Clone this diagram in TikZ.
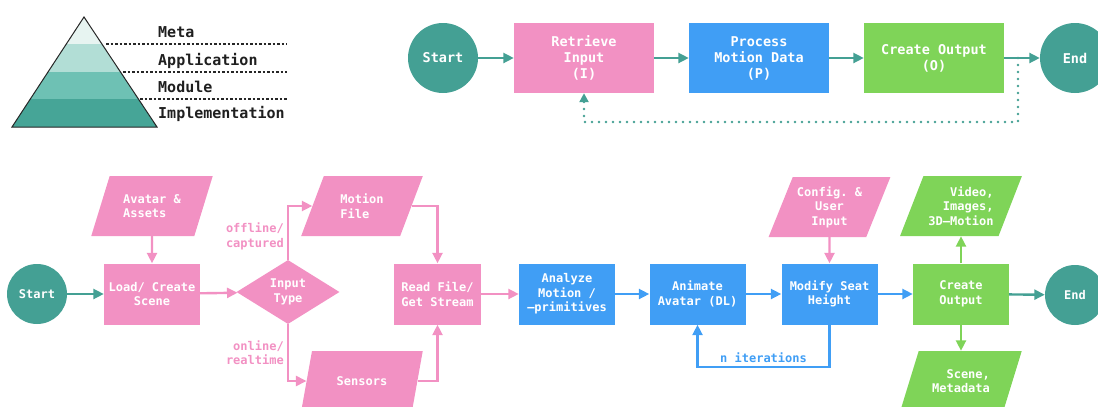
\documentclass[tikz,border=0pt]{standalone}
\usepackage{fontspec}
\setmonofont{DejaVu Sans Mono}
\usepackage{tikz}
\usetikzlibrary{arrows.meta}
\usetikzlibrary{shapes.geometric}
\definecolor{flowpink}{RGB}{242,145,195}
\definecolor{flowblue}{RGB}{64,158,245}
\definecolor{flowgreen}{RGB}{127,212,88}
\definecolor{flowteal}{RGB}{68,160,148}
\definecolor{layerA}{RGB}{231,244,241}
\definecolor{layerB}{RGB}{178,222,214}
\definecolor{layerC}{RGB}{110,193,180}
\definecolor{layerD}{RGB}{70,165,151}
\newcommand{\bigtxt}{\fontsize{13.5}{16}\selectfont}
\newcommand{\smalltxt}{\fontsize{12}{14.5}\selectfont}

\begin{document}
\begin{tikzpicture}[x=1pt, y=-1pt,
                font=\ttfamily\bfseries\smalltxt,
                block/.style={rectangle, fill=#1, text=white, align=center, minimum width=96pt, minimum height=61pt, inner sep=2pt},
                bigblock/.style={block=#1, font=\ttfamily\bfseries\bigtxt, minimum width=140pt, minimum height=70pt},
                term/.style={circle, fill=flowteal, text=white, minimum size=#1, inner sep=0pt},
                io/.style={trapezium, trapezium left angle=63, trapezium right angle=117, trapezium stretches=true, fill=#1, text=white, align=center, minimum width=122pt, minimum height=60pt, inner sep=1pt},
                decision/.style={diamond, fill=flowpink, text=white, align=center, minimum width=103pt, minimum height=64pt, inner sep=0pt},
                arrow/.style={draw=#1, line width=2.4pt, -{Triangle[length=10.5pt,width=10pt]}},
                note/.style={text=#1, align=right, inner sep=3pt},
                layer/.style={font=\ttfamily\bfseries\fontsize{15}{18}\selectfont, text=black!88, anchor=base west, inner sep=0pt}
            ]
            \useasboundingbox (0,0) rectangle (1098,407);
            % pyramid
            \begin{scope}
                \clip (84,17) -- (157,127) -- (12,127) -- cycle;
                \fill[layerA] (0,0) rectangle (170,44);
                \fill[layerB] (0,44) rectangle (170,72);
                \fill[layerC] (0,72) rectangle (170,99);
                \fill[layerD] (0,99) rectangle (170,130);
            \end{scope}
            \draw[line width=1pt, black!85] (84,17) -- (157,127) -- (12,127) -- cycle;
            \foreach \y/\x in {44/106, 72/123, 99/140}
                \draw[black!85, line width=1.1pt, dash pattern=on 2.5pt off 2pt] (\x,\y) -- (287,\y);
            \node[layer] (meta) at (158,37) {Meta};
            \node[layer] (appl) at (158,65) {Application};
            \node[layer] (modl) at (158,92) {Module};
            \node[layer] (impl) at (158,118) {Implementation};
            % top flow
            \node[term=70pt, font=\ttfamily\bfseries\bigtxt] (tstart) at (443,58) {Start};
            \node[bigblock=flowpink] (tret) at (584,58) {Retrieve\\Input\\(I)};
            \node[bigblock=flowblue] (tproc) at (759,58) {Process\\Motion Data\\(P)};
            \node[bigblock=flowgreen] (tout) at (934,58) {Create Output\\(O)};
            \node[term=70pt, font=\ttfamily\bfseries\bigtxt] (tend) at (1075,58) {End};
            \coordinate (tfb) at (1018,58);
            \path[arrow=flowteal] (tstart) -- (tret);
            \path[arrow=flowteal] (tret) -- (tproc);
            \path[arrow=flowteal] (tproc) -- (tout);
            \path[arrow=flowteal] (tout) -- (tend);
            \path[draw=flowteal, line width=2.6pt, line cap=round, dash pattern=on 0pt off 7pt, -{Triangle[length=9pt,width=9pt]}] (tfb) -- ++(0,64) -| (tret.south);
            % bottom flow
            \node[term=60pt] (bstart) at (37,294) {Start};
            \node[block=flowpink] (load) at (152,294) {Load/ Create\\Scene};
            \node[io=flowpink, align=left] (avatar) at (152,206) {Avatar \&\\Assets};
            \node[decision] (itype) at (288,292) {Input\\Type};
            \node[io=flowpink, align=left] (mfile) at (362,206) {Motion\\File};
            \node[io=flowpink] (sens) at (362,381) {Sensors};
            \node[block=flowpink, minimum width=87pt] (rfile) at (437.5,294) {Read File/\\Get Stream};
            \node[block=flowblue] (analyze) at (567,294) {Analyze\\Motion /\\–primitives};
            \node[block=flowblue] (anim) at (697.5,294) {Animate\\Avatar (DL)};
            \node[block=flowblue] (mseat) at (829.5,294) {Modify Seat\\Height};
            \node[io=flowpink] (config) at (829.5,207) {Config. \&\\User\\Input};
            \node[block=flowgreen] (bout) at (961,294) {Create\\Output};
            \node[io=flowgreen, align=right] (video) at (961,206) {Video,\\Images,\\3D–Motion};
            \node[io=flowgreen, align=right] (scene) at (961,381) {Scene,\\Metadata};
            \node[term=60pt] (bend) at (1075,295) {End};
            \path[arrow=flowteal] (bstart) -- (load);
            \path[arrow=flowpink] (avatar) -- (load);
            \path[arrow=flowpink] (load) -- (itype);
            \path[arrow=flowpink] (itype.north) |- node[note=flowpink, pos=0.22, left]{offline/\\captured} (mfile.west);
            \path[arrow=flowpink] (itype.south) |- node[note=flowpink, pos=0.25, left]{online/\\realtime} (sens.west);
            \path[arrow=flowpink] (mfile.east) -| (rfile.north);
            \path[arrow=flowpink] (sens.east) -| (rfile.south);
            \path[arrow=flowpink] (rfile) -- (analyze);
            \path[arrow=flowblue] (analyze) -- (anim);
            \path[arrow=flowblue] (anim) -- (mseat);
            \path[arrow=flowpink] (config) -- (mseat);
            \path[arrow=flowblue] (mseat) -- (bout);
            \path[arrow=flowgreen] (bout) -- (video);
            \path[arrow=flowgreen] (bout) -- (scene);
            \path[arrow=flowteal] (bout) -- (bend);
            \path[arrow=flowblue] (mseat.south) -- ++(0,42) -| node[pos=0.25, above, text=flowblue]{n iterations} (anim.south);
        \end{tikzpicture}
\end{document}
